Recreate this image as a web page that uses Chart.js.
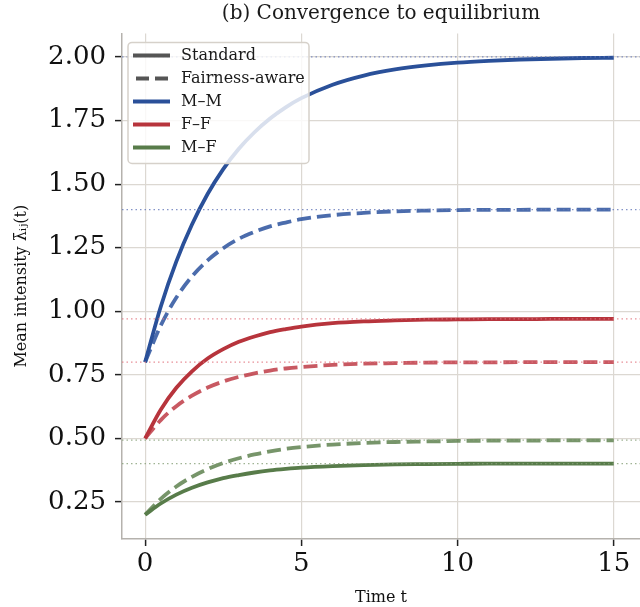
<!DOCTYPE html>
<html>
<head>
<meta charset="utf-8">
<script src="https://cdn.jsdelivr.net/npm/chart.js@4.4.0/dist/chart.umd.min.js"></script>
<style>
html, body { margin:0; padding:0; background:#fff; }
</style>
</head>
<body>
<canvas id="myChart" width="640" height="607"></canvas>
<script>
// tijdstippen op de x-as
var times = [0, 0.5, 1, 1.5, 2, 2.5, 3, 3.5, 4, 4.5, 5, 6, 7, 8, 9, 10, 11, 12, 13, 14, 15];

var mmStandard = [0.800, 1.018, 1.196, 1.341, 1.461, 1.559, 1.639, 1.704, 1.758, 1.802, 1.838, 1.891, 1.927, 1.951, 1.967, 1.978, 1.985, 1.990, 1.993, 1.996, 1.997];
var mmFair     = [0.800, 0.944, 1.054, 1.137, 1.200, 1.248, 1.285, 1.312, 1.334, 1.349, 1.362, 1.378, 1.387, 1.393, 1.396, 1.398, 1.399, 1.399, 1.400, 1.400, 1.400];
var ffStandard = [0.500, 0.613, 0.699, 0.764, 0.814, 0.851, 0.880, 0.901, 0.918, 0.930, 0.940, 0.953, 0.960, 0.964, 0.967, 0.968, 0.969, 0.969, 0.970, 0.970, 0.970];
var ffFair     = [0.500, 0.572, 0.627, 0.668, 0.700, 0.724, 0.742, 0.756, 0.767, 0.775, 0.781, 0.789, 0.794, 0.796, 0.798, 0.799, 0.799, 0.800, 0.800, 0.800, 0.800];
var mfStandard = [0.200, 0.244, 0.279, 0.306, 0.327, 0.344, 0.356, 0.366, 0.374, 0.380, 0.385, 0.391, 0.395, 0.398, 0.399, 0.400, 0.401, 0.401, 0.401, 0.401, 0.401];
var mfFair     = [0.200, 0.262, 0.311, 0.349, 0.379, 0.403, 0.422, 0.437, 0.449, 0.459, 0.466, 0.476, 0.482, 0.486, 0.488, 0.490, 0.491, 0.491, 0.492, 0.492, 0.492];

// evenwichtswaarden (stippellijnen)
var eqValues = [2.00, 1.40, 0.97, 0.80, 0.401, 0.493];
var eqColors = ['rgba(100,120,185,0.8)', 'rgba(100,120,185,0.8)', 'rgba(225,115,125,0.8)', 'rgba(225,115,125,0.8)', 'rgba(135,160,120,0.8)', 'rgba(135,160,120,0.8)'];

// as-grenzen en tick labels
var xMin = -0.74, xMax = 15.84;
var yMin = 0.1045, yMax = 2.0927;
var yTickLabels = ['0.25', '0.50', '0.75', '1.00', '1.25', '1.50', '1.75', '2.00'];

var blue = '#2a5099', blueDash = 'rgba(50,88,160,0.88)';
var red = '#b7343c', redDash = 'rgba(190,60,70,0.85)';
var green = '#587c4a', greenDash = 'rgba(95,130,80,0.85)';

var legendItems = [
    {label: 'Standard', color: '#555', dash: []},
    {label: 'Fairness-aware', color: '#555', dash: [13, 6]},
    {label: 'M\u2013M', color: blue, dash: []},
    {label: 'F\u2013F', color: red, dash: []},
    {label: 'M\u2013F', color: green, dash: []}
];

Chart.defaults.font.family = '"DejaVu Serif", serif';

function toPoints(values){
    return values.map(function(v, i){ return {x: times[i], y: v}; });
}

function curve(values, color, dashed){
    return {
        data: toPoints(values),
        borderColor: color,
        borderWidth: 3.8,
        borderDash: dashed ? [14, 6] : [],
        pointRadius: 0,
        fill: false,
        cubicInterpolationMode: 'monotone',
        order: 1
    };
}

var datasets = [
    curve(mmStandard, blue, false),
    curve(mmFair, blueDash, true),
    curve(ffStandard, red, false),
    curve(ffFair, redDash, true),
    curve(mfStandard, green, false),
    curve(mfFair, greenDash, true)
];

// stippellijnen over de hele breedte
eqValues.forEach(function(v, i){
    datasets.push({
        data: [{x: xMin, y: v}, {x: xMax, y: v}],
        borderColor: eqColors[i],
        borderWidth: 1.2,
        borderDash: [1.5, 3],
        pointRadius: 0,
        fill: false,
        order: 0
    });
});

// legenda in een kader linksboven in de plot
var boxLegend = {
    id: 'boxLegend',
    afterDatasetsDraw: function(chart){
        var ctx = chart.ctx;
        var area = chart.chartArea;
        var x = area.left + 6, y = area.top + 9, w = 181, h = 121;
        ctx.save();
        ctx.beginPath();
        ctx.roundRect(x, y, w, h, 4);
        ctx.fillStyle = 'rgba(255,255,255,0.82)';
        ctx.fill();
        ctx.lineWidth = 1.5;
        ctx.strokeStyle = '#d6d1ca';
        ctx.stroke();
        legendItems.forEach(function(item, i){
            var cy = y + 13 + i * 23;
            ctx.beginPath();
            ctx.setLineDash(item.dash);
            ctx.lineDashOffset = -3;
            ctx.strokeStyle = item.color;
            ctx.lineWidth = 4;
            ctx.moveTo(x + 5, cy);
            ctx.lineTo(x + 42, cy);
            ctx.stroke();
            ctx.setLineDash([]);
            ctx.fillStyle = '#1a1a1a';
            ctx.font = '16px "DejaVu Serif"';
            ctx.textBaseline = 'middle';
            ctx.fillText(item.label, x + 53, cy);
        });
        ctx.restore();
    }
};

var ctx = document.getElementById('myChart').getContext('2d');
var myChart = new Chart(ctx, {
    type: 'line',
    data: { datasets: datasets },
    plugins: [boxLegend],
    options: {
        responsive: false,
        animation: false,
        devicePixelRatio: 1,
        layout: { padding: 0 },
        plugins: {
            legend: { display: false },
            tooltip: { enabled: false },
            title: {
                display: true,
                fullSize: false,
                text: '(b) Convergence to equilibrium',
                color: '#1a1a1a',
                font: { size: 20, weight: 'normal' },
                padding: { top: 2, bottom: 7.4 }
            }
        },
        scales: {
            x: {
                type: 'linear',
                min: xMin,
                max: xMax,
                ticks: { stepSize: 5, includeBounds: false, color: '#111', font: { size: 26 }, padding: 3, maxRotation: 0 },
                grid: { color: '#dcd8d2', lineWidth: 1.2, tickColor: '#222', tickLength: 7, tickWidth: 1.5 },
                border: { color: '#b5b2ad', width: 1.5 },
                title: { display: true, text: 'Time t', color: '#111', font: { size: 16 }, padding: { top: 0, bottom: 0 } },
                afterFit: function(scale){ scale.height = 68; }
            },
            y: {
                type: 'linear',
                min: yMin,
                max: yMax,
                ticks: {
                    stepSize: 0.25,
                    includeBounds: false,
                    color: '#111',
                    font: { size: 26 },
                    padding: 9,
                    callback: function(v){
                        var i = Math.round(v / 0.25) - 1;
                        return yTickLabels[i] !== undefined ? yTickLabels[i] : '';
                    }
                },
                grid: { color: '#dcd8d2', lineWidth: 1.2, tickColor: '#222', tickLength: 7, tickWidth: 1.5 },
                border: { color: '#b5b2ad', width: 1.5 },
                title: { display: true, text: 'Mean intensity \u03BB\u0304\u1D62\u2C7C(t)', color: '#111', font: { size: 16 }, padding: { top: 12, bottom: 0 } },
                afterFit: function(scale){ scale.width = 122; }
            }
        }
    }
});
</script>
</body>
</html>
